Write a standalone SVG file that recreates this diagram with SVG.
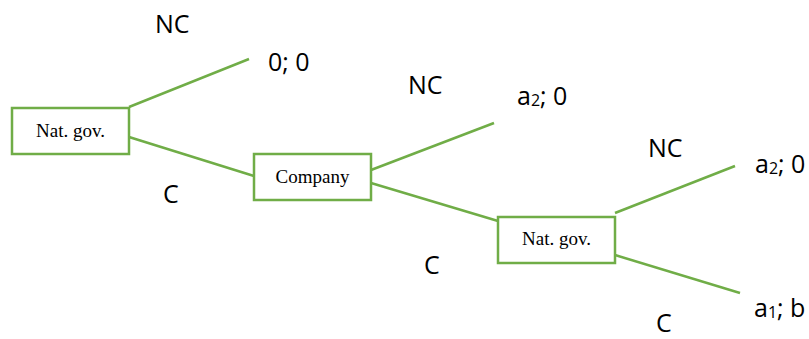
<svg xmlns="http://www.w3.org/2000/svg" width="809" height="339" viewBox="0 0 809 339">
  <style>
    .box { fill: #ffffff; stroke: #70ad47; stroke-width: 2.5; }
    .edge { stroke: #70ad47; stroke-width: 2.5; fill: none; }
    .node-label { font-family: "Liberation Serif", "Times New Roman", serif; font-size: 19px; fill: #000; text-anchor: middle; }
    .label { font-family: "Open Sans", "Liberation Sans", sans-serif; font-size: 25px; fill: #000; }
    .sub { font-size: 16px; }
  </style>
  <rect width="809" height="339" fill="#ffffff"/>

  <g id="connectors">
    <line class="edge" x1="129" y1="107" x2="249" y2="59"/>
    <line class="edge" x1="129" y1="137" x2="254" y2="176"/>
    <line class="edge" x1="371" y1="170" x2="494" y2="123"/>
    <line class="edge" x1="371" y1="183" x2="498" y2="221"/>
    <line class="edge" x1="615" y1="213" x2="735" y2="166"/>
    <line class="edge" x1="615" y1="255" x2="740" y2="293"/>
  </g>

  <g id="node-natgov-1">
    <rect class="box" x="12" y="108" width="117" height="46"/>
    <text class="node-label" x="70.5" y="137">Nat. gov.</text>
  </g>
  <g id="node-company">
    <rect class="box" x="254" y="154" width="117" height="46"/>
    <text class="node-label" x="312.5" y="183">Company</text>
  </g>
  <g id="node-natgov-2">
    <rect class="box" x="498" y="217" width="117" height="46"/>
    <text class="node-label" x="556.5" y="245">Nat. gov.</text>
  </g>

  <g id="labels">
    <text class="label" x="155" y="33">NC</text>
    <text class="label" x="268" y="71">0; 0</text>
    <text class="label" x="163" y="203">C</text>
    <text class="label" x="408" y="94">NC</text>
    <text class="label" x="517" y="105">a<tspan class="sub" dy="1">2</tspan><tspan dy="-1">; 0</tspan></text>
    <text class="label" x="424" y="274">C</text>
    <text class="label" x="648" y="157">NC</text>
    <text class="label" x="755" y="173">a<tspan class="sub" dy="1">2</tspan><tspan dy="-1">; 0</tspan></text>
    <text class="label" x="656" y="332">C</text>
    <text class="label" x="754" y="317">a<tspan class="sub" dy="1">1</tspan><tspan dy="-1">; b</tspan></text>
  </g>
</svg>
